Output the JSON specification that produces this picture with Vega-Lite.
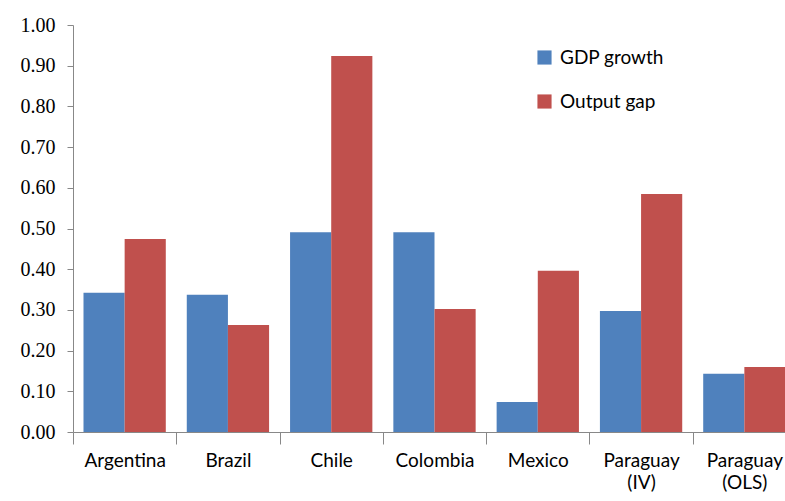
{
  "$schema": "https://vega.github.io/schema/vega-lite/v6.json",
  "width": 723,
  "height": 407,
  "autosize": {"type": "none"},
  "padding": {"left": 73, "top": 25, "right": 0, "bottom": 69},
  "background": "white",
  "config": {"view": {"stroke": null}},
  "data": {
    "values": [
      {"country": "Argentina", "series": "GDP growth", "value": 0.342},
      {"country": "Argentina", "series": "Output gap", "value": 0.474},
      {"country": "Brazil", "series": "GDP growth", "value": 0.337},
      {"country": "Brazil", "series": "Output gap", "value": 0.263},
      {"country": "Chile", "series": "GDP growth", "value": 0.491},
      {"country": "Chile", "series": "Output gap", "value": 0.924},
      {"country": "Colombia", "series": "GDP growth", "value": 0.491},
      {"country": "Colombia", "series": "Output gap", "value": 0.302},
      {"country": "Mexico", "series": "GDP growth", "value": 0.074},
      {"country": "Mexico", "series": "Output gap", "value": 0.396},
      {"country": "Paraguay (IV)", "series": "GDP growth", "value": 0.297},
      {"country": "Paraguay (IV)", "series": "Output gap", "value": 0.585},
      {"country": "Paraguay (OLS)", "series": "GDP growth", "value": 0.143},
      {"country": "Paraguay (OLS)", "series": "Output gap", "value": 0.16}
    ]
  },
  "mark": {"type": "bar"},
  "encoding": {
    "x": {
      "field": "country",
      "type": "nominal",
      "sort": null,
      "scale": {"paddingInner": 0, "paddingOuter": 0},
      "axis": {
        "title": null,
        "labelAngle": 0,
        "tickBand": "extent",
        "tickSize": 12,
        "tickColor": "#888888",
        "domainColor": "#888888",
        "labelFont": "Lato",
        "labelFontSize": 19,
        "labelColor": "black",
        "labelPadding": 7,
        "labelLineHeight": 22,
        "labelExpr": "split(datum.label, ' ')"
      }
    },
    "xOffset": {
      "field": "series",
      "sort": null,
      "scale": {"paddingInner": 0, "paddingOuter": 0.255}
    },
    "y": {
      "field": "value",
      "type": "quantitative",
      "scale": {"domain": [0, 1]},
      "axis": {
        "title": null,
        "values": [0, 0.1, 0.2, 0.3, 0.4, 0.5, 0.6, 0.7, 0.8, 0.9, 1.0],
        "format": ".2f",
        "grid": false,
        "tickSize": 6,
        "tickColor": "#888888",
        "domainColor": "#888888",
        "labelFont": "Liberation Serif",
        "labelFontSize": 20,
        "labelColor": "black",
        "labelPadding": 12
      }
    },
    "color": {
      "field": "series",
      "type": "nominal",
      "scale": {"domain": ["GDP growth", "Output gap"], "range": ["#4F81BD", "#C0504D"]},
      "legend": {
        "title": null,
        "orient": "none",
        "legendX": 462,
        "legendY": 23,
        "symbolType": "square",
        "symbolSize": 200,
        "symbolStrokeWidth": 0,
        "labelFont": "Lato",
        "labelFontSize": 19,
        "labelColor": "black",
        "labelOffset": 6,
        "rowPadding": 24
      }
    }
  }
}
